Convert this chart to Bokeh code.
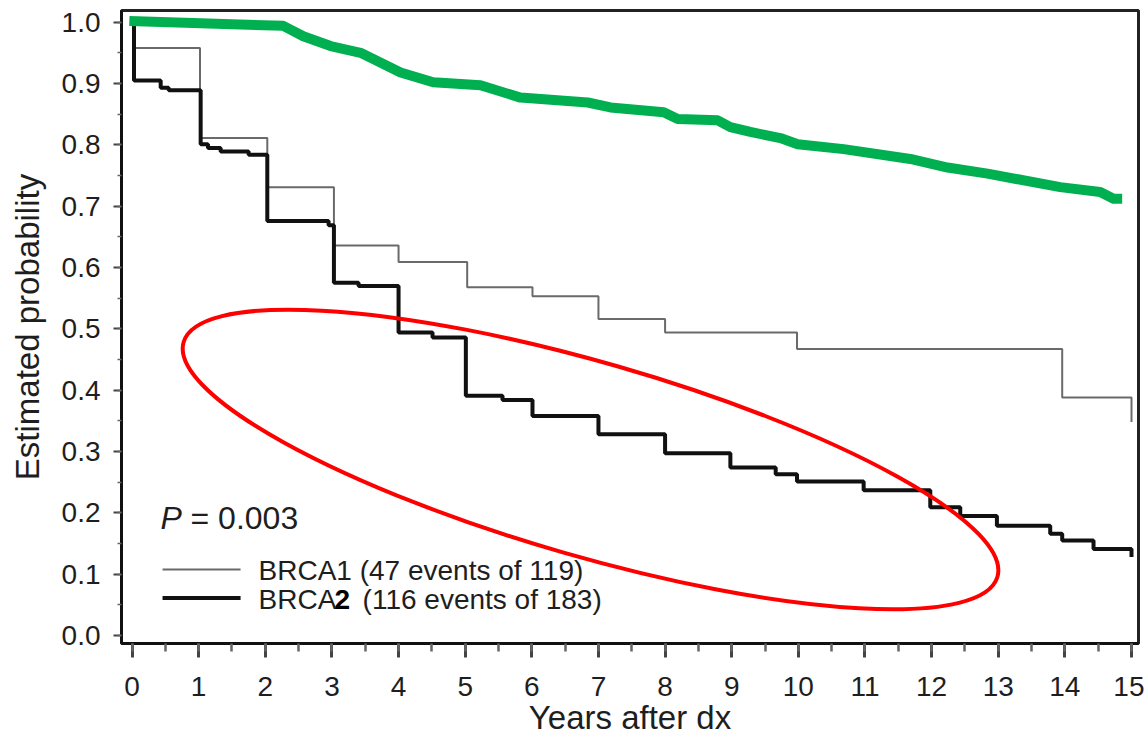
from bokeh.plotting import figure
from bokeh.models import Range1d, SingleIntervalTicker, NumeralTickFormatter
from bokeh.core.properties import value
from bokeh.embed import file_html
from bokeh.resources import INLINE

# ---------------- data ----------------
# BRCA1 Kaplan-Meier curve: event times (years) and survival after each time
brca1_t = [0.0, 0.03, 1.02, 2.03, 3.03, 4.0, 5.03, 6.01, 7.0, 8.0, 9.98, 13.96, 15.0]
brca1_s = [1.0, 0.958, 0.811, 0.731, 0.636, 0.609, 0.568, 0.553, 0.516, 0.494, 0.467, 0.388, 0.348]

# BRCA2 Kaplan-Meier curve
brca2_t = [0.0, 0.03, 0.43, 0.55, 1.03, 1.14, 1.33, 1.75, 2.03, 2.95, 3.03, 3.4, 4.0, 4.51,
           5.01, 5.56, 6.01, 7.0, 8.0, 8.98, 9.66, 9.98, 10.98, 11.98, 12.43, 12.98, 13.78,
           13.96, 14.43, 15.0]
brca2_s = [1.0, 0.905, 0.893, 0.889, 0.801, 0.795, 0.789, 0.784, 0.676, 0.669, 0.575, 0.570,
           0.494, 0.486, 0.391, 0.384, 0.358, 0.328, 0.297, 0.274, 0.263, 0.251, 0.237, 0.209,
           0.195, 0.179, 0.166, 0.155, 0.141, 0.128]

# Green reference curve
green_x = [-0.04, 2.27, 2.57, 2.98, 3.43, 3.62, 4.03, 4.52, 5.23, 5.83, 6.84, 7.18, 7.98, 8.19,
           8.79, 8.98, 9.28, 9.73, 9.99, 10.68, 11.68, 12.24, 12.84, 13.93, 14.53, 14.73, 14.86]
green_y = [1.002, 0.994, 0.977, 0.961, 0.950, 0.940, 0.918, 0.902, 0.897, 0.877, 0.869, 0.861,
           0.853, 0.842, 0.840, 0.829, 0.821, 0.811, 0.801, 0.793, 0.777, 0.763, 0.753, 0.731,
           0.723, 0.712, 0.712]

legend_labels = ["BRCA1 (47 events of 119)", "BRCA", "2", "(116 events of 183)"]
p_value_text = ["P", "= 0.003"]
x_title = "Years after dx"
y_title = "Estimated probability"

# ---------------- styling / layout ----------------
FONT = "Liberation Sans"
TXT = "#1e1e1e"

p = figure(width=1144, height=738, output_backend="svg", toolbar_location=None,
           x_range=Range1d(-0.158, 15.105), y_range=Range1d(-0.013, 1.019),
           min_border_left=121, min_border_right=6, min_border_top=10, min_border_bottom=95)
p.background_fill_color = "white"
p.border_fill_color = "white"
p.outline_line_color = "#222222"
p.outline_line_width = 3
p.xgrid.grid_line_color = None
p.ygrid.grid_line_color = None

p.xaxis.ticker = SingleIntervalTicker(interval=1, num_minor_ticks=2)
p.yaxis.ticker = SingleIntervalTicker(interval=0.1, num_minor_ticks=2)
p.yaxis.formatter = NumeralTickFormatter(format="0.0")

for ax in (p.xaxis, p.yaxis):
    ax.axis_line_color = "#111111"
    ax.axis_line_width = 3
    ax.major_tick_line_color = "#444444"
    ax.minor_tick_line_color = "#666666"
    ax.major_tick_in = 0
    ax.minor_tick_in = 0
    ax.major_label_text_font = FONT
    ax.major_label_text_font_size = "28px"
    ax.major_label_text_color = TXT
    ax.axis_label_text_font = FONT
    ax.axis_label_text_font_size = "33px"
    ax.axis_label_text_font_style = "normal"
    ax.axis_label_text_color = TXT

p.xaxis.major_tick_out = 14
p.xaxis.minor_tick_out = 8
p.xaxis.major_tick_line_width = 3
p.xaxis.minor_tick_line_width = 2.5
p.xaxis.major_label_standoff = 19
p.xaxis.axis_label_standoff = 0
p.xaxis.axis_label = x_title

p.yaxis.major_tick_out = 8
p.yaxis.minor_tick_out = 4
p.yaxis.major_tick_line_width = 2
p.yaxis.minor_tick_line_width = 1.5
p.yaxis.major_label_standoff = 13
p.yaxis.axis_label_standoff = 13
p.yaxis.axis_label = y_title

# ---------------- curves ----------------
p.step(brca1_t, brca1_s, mode="after", line_color="#6a6a6a", line_width=2)
p.step(brca2_t, brca2_s, mode="after", line_color="#111111", line_width=4)
p.line(green_x, green_y, line_color="#00B050", line_width=10, line_join="round")

# ---------------- P value and legend ----------------
p_x, p_y = 0.428, 0.1924
p.text(x=[p_x], y=[p_y], text=[p_value_text[0]], text_font=value(FONT), text_font_size=value("32px"),
       text_font_style="italic", text_color=TXT, text_baseline="middle", text_align="left")
p.text(x=[p_x], y=[p_y], text=[p_value_text[1]], x_offset=30, text_font=value(FONT),
       text_font_size=value("32px"), text_color=TXT, text_baseline="middle", text_align="left")

leg_x0, leg_x1, leg_tx = 0.458, 1.629, 1.899
leg_y1, leg_y2 = 0.1076, 0.0611
p.segment(x0=[leg_x0], y0=[leg_y1], x1=[leg_x1], y1=[leg_y1], line_color="#6a6a6a", line_width=2)
p.segment(x0=[leg_x0], y0=[leg_y2], x1=[leg_x1], y1=[leg_y2], line_color="#111111", line_width=4)
p.text(x=[leg_tx], y=[leg_y1 - 0.002], text=[legend_labels[0]], text_font=value(FONT),
       text_font_size=value("28px"), text_color=TXT, text_baseline="middle", text_align="left")
p.text(x=[leg_tx], y=[leg_y2 - 0.002], text=[legend_labels[1]], text_font=value(FONT),
       text_font_size=value("28px"), text_color=TXT, text_baseline="middle", text_align="left")
p.text(x=[leg_tx], y=[leg_y2 - 0.002], text=[legend_labels[2]], x_offset=76, text_font=value(FONT),
       text_font_size=value("28px"), text_font_style="bold", text_color="#000000",
       text_baseline="middle", text_align="left")
p.text(x=[leg_tx], y=[leg_y2 - 0.002], text=[legend_labels[3]], x_offset=104, text_font=value(FONT),
       text_font_size=value("28px"), text_color=TXT, text_baseline="middle", text_align="left")

# ---------------- red highlight ellipse (annotation) ----------------
ell_cx, ell_cy = 6.881, 0.287
p.ellipse(x=[ell_cx], y=[ell_cy], width=[847], height=[194], angle=-0.2806,
          width_units="screen", height_units="screen",
          fill_color=None, line_color="#FF0000", line_width=4)

open("out.html", "w").write(file_html(p, INLINE))
